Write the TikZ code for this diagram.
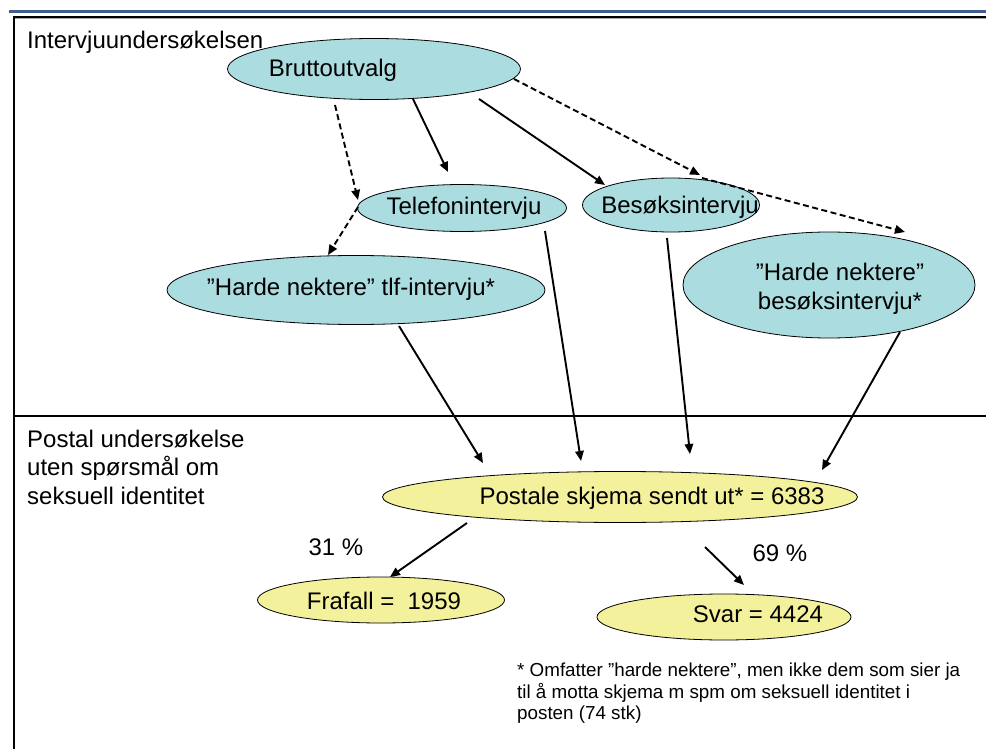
\documentclass[tikz,border=0pt]{standalone}
\usepackage{fontspec}
\setmainfont{Liberation Sans}
\usetikzlibrary{shapes.geometric,arrows.meta,calc}
\definecolor{cellblue}{RGB}{170,220,224}
\definecolor{cellyel}{RGB}{243,241,155}
\definecolor{barblue}{RGB}{63,94,140}
\begin{document}
\begin{tikzpicture}[x=1pt,y=1pt,
 ell/.style={ellipse,draw=black,line width=0.8pt,inner sep=0pt},
 cy/.style={ell,fill=cellblue},
 yl/.style={ell,fill=cellyel},
 txt/.style={font=\fontsize{24}{28.5}\selectfont,inner sep=0pt},
 note/.style={font=\fontsize{18.8}{21.5}\selectfont,inner sep=0pt,align=left},
 arr/.style={line width=1.9pt,-{Triangle[length=10pt,width=8.5pt]}},
 darr/.style={arr,dash pattern=on 6pt off 3.5pt},
 frame/.style={line width=1.3pt,black},
]
\useasboundingbox (0,0) rectangle (986,-749);
\fill[white] (0,0) rectangle (986,-749);
% header bars
\draw[barblue,line width=3pt] (9,-11.3) -- (986,-11.3);
\draw[gray!70,line width=1pt] (14,-18.6) -- (986,-18.6);
\draw[frame] (14,-749) -- (14,-17) -- (986,-17);
\draw[frame] (14,-416) -- (986,-416);
% section labels
\node[txt,anchor=west] (lab1) at (27,-42) {Intervjuundersøkelsen};
\node[txt,anchor=west,align=left] (lab2) at (27,-467) {Postal undersøkelse\\uten spørsmål om\\seksuell identitet};
% ellipses
\node[cy,minimum width=293pt,minimum height=61pt] (brutto) at (374,-69) {};
\node[txt] (bruttot) at ($(brutto)+(-41,-1)$) {Bruttoutvalg};
\node[cy,minimum width=209pt,minimum height=47pt] (tlf) at (462,-208) {};
\node[txt] (tlft) at ($(tlf)+(2,0)$) {Telefonintervju};
\node[cy,minimum width=177pt,minimum height=54pt] (besok) at (671,-205) {};
\node[txt] (besokt) at ($(besok)+(9,-2)$) {Besøksintervju};
\node[cy,minimum width=378pt,minimum height=69pt] (hardtlf) at (356,-290) {};
\node[txt] (hardtlft) at ($(hardtlf)+(-5,1)$) {”Harde nektere” tlf-intervju*};
\node[cy,minimum width=292pt,minimum height=106pt] (hardbes) at (829,-285) {};
\node[txt,align=center] (hardbest) at ($(hardbes)+(11,-4)$) {”Harde nektere”\\besøksintervju*};
\node[yl,minimum width=475pt,minimum height=51pt] (post) at (620,-497) {};
\node[txt] (postt) at ($(post)+(32,-1)$) {Postale skjema sendt ut* = 6383};
\node[yl,minimum width=247pt,minimum height=46pt] (fra) at (381,-600) {};
\node[txt] (frat) at ($(fra)+(3,-1)$) {Frafall =\ \ 1959};
\node[yl,minimum width=254pt,minimum height=46pt] (svar) at (724,-617) {};
\node[txt] (svart) at ($(svar)+(34,3)$) {Svar = 4424};
% percentages
\node[txt] (p31) at (336,-547) {31 \%};
\node[txt] (p69) at (780,-553) {69 \%};
% footnote
\node[note,anchor=west] (fn) at (517,-693.5) {* Omfatter ”harde nektere”, men ikke dem som sier ja\\til å motta skjema m spm om seksuell identitet i\\posten (74 stk)};
% connectors
\draw[darr] ($(brutto)+(-39,-36)$) -- ($(tlf)+(-104,8)$);
\draw[arr] ($(brutto)+(39,-30)$) -- ($(tlf)+(-14,36)$);
\draw[arr] ($(brutto)+(105,-30)$) -- ($(besok)+(-66,20)$);
\draw[darr] ($(brutto)+(140,-10)$) -- ($(besok)+(29,30)$);
\draw[darr] ($(besok)+(31,27)$) -- ($(hardbes)+(76,53)$);
\draw[darr] ($(tlf)+(-104,1)$) -- ($(hardtlf)+(-28,35)$);
\draw[arr] ($(tlf)+(83,-23)$) -- ($(post)+(-39,36)$);
\draw[arr] ($(besok)+(-4,-33)$) -- ($(post)+(70,43)$);
\draw[arr] ($(hardtlf)+(43,-36)$) -- ($(post)+(-137,34)$);
\draw[arr] ($(hardbes)+(71,-47)$) -- ($(post)+(202,27)$);
\draw[arr] ($(post)+(-153,-26)$) -- ($(fra)+(9,23)$);
\draw[arr] ($(post)+(85,-50)$) -- ($(svar)+(20,32)$);
\end{tikzpicture}
\end{document}
